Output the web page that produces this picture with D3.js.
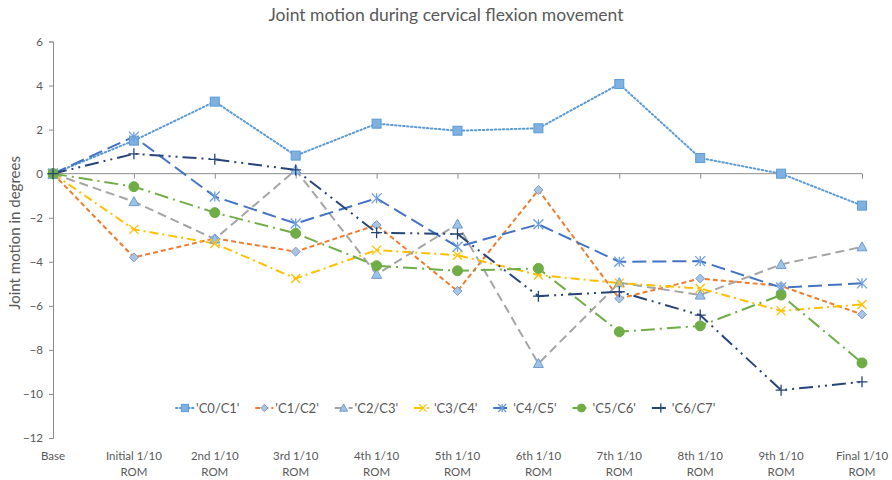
<!DOCTYPE html>
<html><head><meta charset="utf-8">
<script src="https://cdn.jsdelivr.net/npm/d3@7"></script>
<style>body{margin:0;background:#fff}svg{display:block;font-family:Lato,"Open Sans",sans-serif}</style>
</head><body><svg id="c" width="892" height="480"></svg>
<script>
const categories = ["Base","Initial 1/10 ROM","2nd 1/10 ROM","3rd 1/10 ROM","4th 1/10 ROM","5th 1/10 ROM","6th 1/10 ROM","7th 1/10 ROM","8th 1/10 ROM","9th 1/10 ROM","Final 1/10 ROM"];
const seriesNames = ["'C0/C1'","'C1/C2'","'C2/C3'","'C3/C4'","'C4/C5'","'C5/C6'","'C6/C7'"];
const c0c1 = [0, 1.5, 3.27, 0.82, 2.27, 1.95, 2.06, 4.07, 0.71, 0, -1.45];
const c1c2 = [0, -3.8, -2.94, -3.54, -2.33, -5.33, -0.74, -5.67, -4.76, -5.1, -6.39];
const c2c3 = [0, -1.27, -2.97, 0.17, -4.57, -2.29, -8.62, -4.95, -5.51, -4.12, -3.32];
const c3c4 = [0, -2.53, -3.17, -4.76, -3.47, -3.7, -4.6, -4.97, -5.21, -6.23, -5.94];
const c4c5 = [0, 1.68, -1.04, -2.26, -1.12, -3.32, -2.3, -4.0, -3.97, -5.17, -4.98];
const c5c6 = [0, -0.59, -1.77, -2.71, -4.18, -4.41, -4.3, -7.18, -6.91, -5.51, -8.59];
const c6c7 = [0, 0.9, 0.65, 0.17, -2.68, -2.74, -5.56, -5.36, -6.42, -9.83, -9.45];
const yTicks = [6,4,2,0,-2,-4,-6,-8,-10,-12];
const title = "Joint motion during cervical flexion movement";
const yTitle = "Joint motion in degrees";

const seriesData = [c0c1,c1c2,c2c3,c3c4,c4c5,c5c6,c6c7];
const styles = [
  {color:"#5B9BD5", dash:"1.5,2.5", cap:"round", marker:"square", mfill:"#7FB0DF", mstroke:"#5B9BD5"},
  {color:"#ED7D31", dash:"5,3", cap:"butt", marker:"diamond", mfill:"#A9C4E4", mstroke:"#7F9BC4"},
  {color:"#A5A5A5", dash:"9,5", cap:"butt", marker:"triangle", mfill:"#9DC3E6", mstroke:"#6F9BD0"},
  {color:"#FFC000", dash:"9,4,2,4", cap:"butt", marker:"x", mfill:"none", mstroke:"#FFC000"},
  {color:"#4472C4", dash:"14,6", cap:"butt", marker:"asterisk", mfill:"none", mstroke:"#6FA0DC"},
  {color:"#70AD47", dash:"14,5,2,5", cap:"butt", marker:"circle", mfill:"#70AD47", mstroke:"#70AD47"},
  {color:"#264478", dash:"14,5,2,5,2,5", cap:"butt", marker:"plus", mfill:"none", mstroke:"#264478"}
];

const svg = d3.select("#c");
const x = d3.scalePoint().domain(categories).range([53, 862]);
const y = d3.scaleLinear().domain([-12, 6]).range([438, 41.5]);

svg.append("text").attr("x", 446).attr("y", 21).attr("text-anchor","middle")
  .attr("font-size", 17.5).attr("fill","#595959").text(title);
svg.append("text").attr("transform","translate(20,233) rotate(-90)").attr("text-anchor","middle")
  .attr("font-size", 15).attr("fill","#595959").text(yTitle);

// y axis
const yAxis = d3.axisLeft(y).tickValues(yTicks).tickSize(4).tickPadding(6);
const gy = svg.append("g").attr("transform","translate(53,0)").call(yAxis);
gy.select(".domain").attr("stroke","#8c8c8c");
gy.selectAll(".tick line").attr("stroke","#8c8c8c");
gy.selectAll("text").attr("fill","#595959").attr("font-size",11.5).attr("font-family","Lato,'Open Sans',sans-serif");

// x axis at zero with ticks
const xAxis = d3.axisBottom(x).tickSize(5).tickFormat("");
const gx = svg.append("g").attr("transform",`translate(0,${y(0)})`).call(xAxis);
gx.select(".domain").attr("stroke","#8c8c8c").attr("d", `M53,0H862`);
gx.selectAll(".tick line").attr("stroke","#8c8c8c");

// x labels at bottom
const lab = svg.append("g");
categories.forEach(c => {
  const parts = c.split(" ROM");
  const t = lab.append("text").attr("x", x(c)).attr("y", 460).attr("text-anchor","middle")
    .attr("font-size", 11.5).attr("fill","#595959");
  t.append("tspan").attr("x", x(c)).attr("dy", 0).text(parts[0]);
  if (c !== "Base") t.append("tspan").attr("x", x(c)).attr("dy", 16).text("ROM");
});

function drawMarker(g, type, cx, cy, st, s) {
  s = s || 1;
  if (type === "square") {
    g.append("rect").attr("x", cx-4.5*s).attr("y", cy-4.5*s).attr("width", 9*s).attr("height", 9*s)
      .attr("fill", st.mfill).attr("stroke", st.mstroke).attr("stroke-width", 1);
  } else if (type === "diamond") {
    const r = 4.5*s;
    g.append("path").attr("d", `M${cx},${cy-r}L${cx+r},${cy}L${cx},${cy+r}L${cx-r},${cy}Z`)
      .attr("fill", st.mfill).attr("stroke", st.mstroke).attr("stroke-width", 1);
  } else if (type === "triangle") {
    const r = 5*s;
    g.append("path").attr("d", `M${cx},${cy-r}L${cx+r},${cy+r*0.8}L${cx-r},${cy+r*0.8}Z`)
      .attr("fill", st.mfill).attr("stroke", st.mstroke).attr("stroke-width", 1);
  } else if (type === "x") {
    const r = 4.5*s;
    g.append("path").attr("d", `M${cx-r},${cy-r}L${cx+r},${cy+r}M${cx-r},${cy+r}L${cx+r},${cy-r}`)
      .attr("stroke", st.mstroke).attr("stroke-width", 1.3).attr("fill","none");
  } else if (type === "asterisk") {
    const r = 5*s;
    g.append("path").attr("d", `M${cx-r},${cy-r}L${cx+r},${cy+r}M${cx-r},${cy+r}L${cx+r},${cy-r}M${cx},${cy-r}L${cx},${cy+r}`)
      .attr("stroke", st.mstroke).attr("stroke-width", 1.3).attr("fill","none");
  } else if (type === "circle") {
    g.append("circle").attr("cx", cx).attr("cy", cy).attr("r", 5*s).attr("fill", st.mfill).attr("stroke", st.mstroke);
  } else if (type === "plus") {
    const r = 5.5*s;
    g.append("path").attr("d", `M${cx-r},${cy}L${cx+r},${cy}M${cx},${cy-r}L${cx},${cy+r}`)
      .attr("stroke", st.mstroke).attr("stroke-width", 1.3).attr("fill","none");
  }
}

const line = d3.line().x((d,i)=>x(categories[i])).y(d=>y(d));
const plot = svg.append("g");
seriesData.forEach((vals, si) => {
  const st = styles[si];
  plot.append("path").datum(vals).attr("d", line).attr("fill","none")
    .attr("stroke", st.color).attr("stroke-width", 2).attr("stroke-dasharray", st.dash)
    .attr("stroke-linecap", st.cap);
});
seriesData.forEach((vals, si) => {
  const st = styles[si];
  const g = plot.append("g");
  vals.forEach((v,i) => drawMarker(g, st.marker, x(categories[i]), y(v), st));
});

// legend
const legend = svg.append("g");
const lx0 = 176, lstep = 79.3, ly = 408;
seriesNames.forEach((n, i) => {
  const st = styles[i];
  const gx0 = lx0 + i*lstep;
  legend.append("line").attr("x1", gx0).attr("x2", gx0+18).attr("y1", ly).attr("y2", ly)
    .attr("stroke", st.color).attr("stroke-width", 2).attr("stroke-dasharray", st.dash).attr("stroke-linecap", st.cap);
  drawMarker(legend, st.marker, gx0+9, ly, st, 0.8);
  legend.append("text").attr("x", gx0+20).attr("y", ly+4.5).attr("font-size", 13).attr("fill","#595959").text(n);
});
</script></body></html>
